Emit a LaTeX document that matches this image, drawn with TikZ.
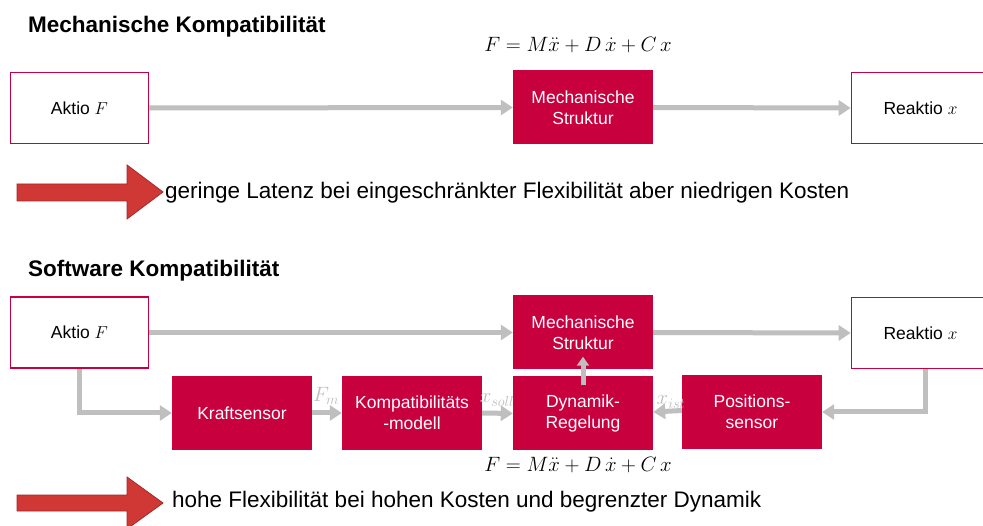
\documentclass[tikz,border=0pt]{standalone}
\usepackage{fontspec}
\setmainfont{Liberation Sans}
\usetikzlibrary{arrows.meta}

\definecolor{crim}{RGB}{200,0,62}
\definecolor{flowgray}{RGB}{191,191,191}
\definecolor{bigred}{RGB}{208,56,54}
\definecolor{bigredline}{RGB}{165,40,40}
\definecolor{sigcol}{RGB}{190,190,190}

\tikzset{
  titletext/.style={anchor=base west, inner sep=0pt, font=\fontsize{22.5}{26}\selectfont\bfseries},
  bodytext/.style={anchor=west, inner sep=0pt, font=\fontsize{22.5}{26}\selectfont},
  openbox/.style={draw=crim, line width=1.6pt, fill=white, minimum width=138pt, minimum height=71pt,
    inner sep=0pt, font=\fontsize{17.5}{21}\selectfont},
  blockbox/.style={fill=crim, text=white, minimum width=140pt, minimum height=74pt, inner sep=0pt,
    align=center, font=\fontsize{17.5}{21}\selectfont},
  flow/.style={draw=flowgray, line width=5pt, -{Triangle[length=12pt,width=15pt]}},
  eqtext/.style={inner sep=0pt, font=\fontsize{22.5}{26}\selectfont},
  sig/.style={inner sep=0pt, text=sigcol, font=\fontsize{22}{24}\selectfont},
  bigarrow/.style={fill=bigred, draw=bigredline, line width=0.8pt, line join=miter}
}

\begin{document}
\begin{tikzpicture}[x=1pt, y=-1pt]
  \useasboundingbox (0,0) rectangle (983,526);
  \fill[white] (0,0) rectangle (983,526);

  % ---------- Mechanische Kompatibilität ----------
  \node[titletext] (t1) at (28,33) {Mechanische Kompatibilität};

  \node[openbox]  (a1) at (79.5,108)  {Aktio $F$};
  \node[blockbox] (m1) at (583,107.5) {Mechanische\\Struktur};
  \node[openbox]  (r1) at (920.5,108) {Reaktio $x$};
  \node[eqtext]   (e1) at (578,45)    {$F = M\ddot{x} + D\,\dot{x} + C\,x$};

  \draw[flow] (a1.east) -- (m1.west);
  \draw[flow] (m1.east) -- (r1.west);

  \draw[bigarrow] (17,184) -- (127,184) -- (127,165) -- (163,192)
                  -- (127,219) -- (127,201) -- (17,201) -- cycle;
  \node[bodytext] (c1) at (165,193)
    {geringe Latenz bei eingeschränkter Flexibilität aber niedrigen Kosten};

  % ---------- Software Kompatibilität ----------
  \node[titletext] (t2) at (28,277) {Software Kompatibilität};

  \node[openbox]  (a2) at (79.5,332.5) {Aktio $F$};
  \node[blockbox] (m2) at (583,332.5)  {Mechanische\\Struktur};
  \node[openbox]  (r2) at (920.5,333)  {Reaktio $x$};

  \node[blockbox] (ks) at (242,413)   {Kraftsensor};
  \node[blockbox] (km) at (412,413)   {Kompatibilitäts\\-modell};
  \node[blockbox] (dr) at (583,413.5) {Dynamik-\\Regelung};
  \node[blockbox] (ps) at (752,412)   {Positions-\\sensor};
  \node[eqtext]   (e2) at (578,465)   {$F = M\ddot{x} + D\,\dot{x} + C\,x$};

  \draw[flow] (a2.east) -- (m2.west);
  \draw[flow] (m2.east) -- (r2.west);
  \draw[flow] (a2.south) |- (ks.west);
  \draw[flow] ([xshift=5pt]r2.south) |- (ps.east);
  \draw[flow] (ks.east) -- (km.west);
  \draw[flow] (km.east) -- (dr.west);
  \draw[flow] ([yshift=1.5pt]ps.west) -- ([yshift=1.5pt]dr.west -| dr.east);
  \draw[flow, -{Triangle[length=9pt,width=12pt]}] ([yshift=-9pt]dr.north) -- ([yshift=13pt]m2.south);

  \node[sig] (fm) at (326,396) {$F_m$};
  \node[sig] (xs) at (497,400) {$x_{soll}$};
  \node[sig] (xi) at (671,402) {$x_{ist}$};

  \draw[bigarrow] (17,495) -- (127,495) -- (127,477) -- (163,503)
                  -- (127,529) -- (127,511) -- (17,511) -- cycle;
  \node[bodytext] (c2) at (172,502)
    {hohe Flexibilität bei hohen Kosten und begrenzter Dynamik};
\end{tikzpicture}
\end{document}
